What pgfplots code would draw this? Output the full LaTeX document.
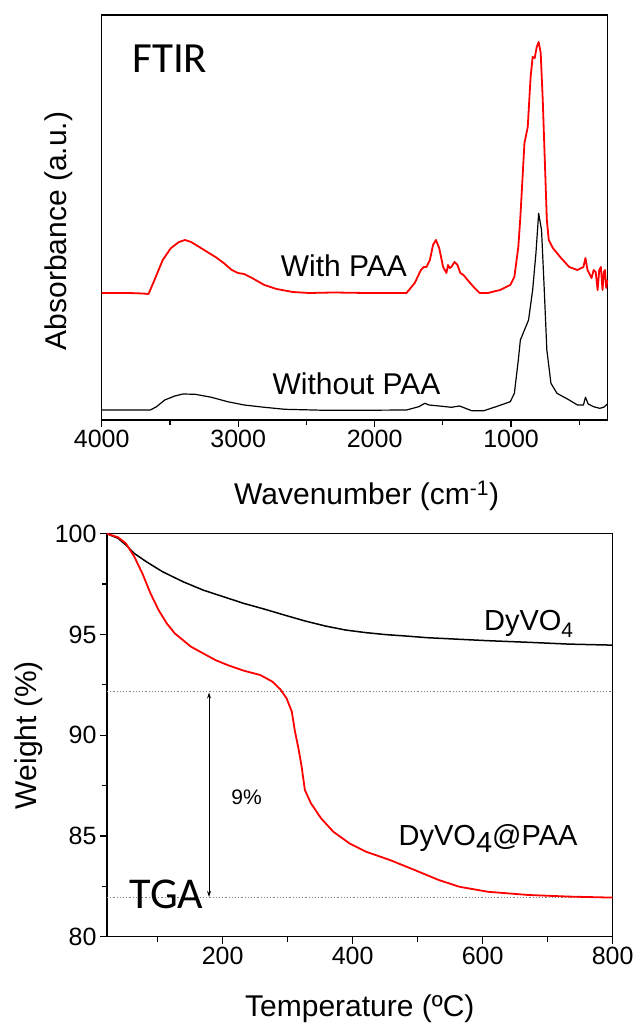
\documentclass[border=0pt]{standalone}
\usepackage{pgfplots}
\pgfplotsset{compat=1.18}
\usepackage{fontspec}
\setmainfont{Liberation Sans}
\newfontfamily\calib{Carlito}
\usetikzlibrary{arrows.meta}

\begin{document}
\begin{tikzpicture}[x=1pt,y=1pt]
\path[use as bounding box] (0,0) rectangle (635,1025);
% ---------------- FTIR ----------------
\begin{axis}[
  at={(101.7pt,605pt)}, anchor=south west,
  scale only axis, width=505.6pt, height=405pt,
  xmin=295, xmax=4000, x dir=reverse,
  ymin=0, ymax=405,
  ytick=\empty,
  xtick={1000,2000,3000,4000}, minor xtick={500,1500,2500,3500},
  xtick pos=left, tick align=outside,
  major tick length=7pt, minor tick length=5pt,
  every tick/.append style={black, line width=1.2pt},
  axis line style={line width=1.5pt},
  ticklabel style={font=\fontsize{25}{25}\selectfont},
  /pgf/number format/assume math mode=true,
  /pgf/number format/1000 sep={},
  xlabel={Wavenumber (cm\textsuperscript{-1})},
  ylabel={Absorbance (a.u.)},
  label style={font=\fontsize{30}{30}\selectfont},
  xlabel style={at={(axis description cs:0.524,-0.188)}, anchor=center},
  ylabel style={at={(axis description cs:-0.0845,0.467)}, anchor=center},
  clip=false
]
\addplot[red, line width=1.8pt, line join=round] coordinates {
(4000,127) (3800,127) (3700,126.5) (3657,126) (3613,140) (3553,160) (3494,171.7) (3434,178) (3389,180)
(3345,178) (3285,173) (3226,168) (3166,163) (3106,157) (3047,150) (3002,147) (2957,146)
(2898,142) (2808,135) (2719,131) (2600,128) (2481,127) (2300,127.5) (2064,127) (1766,127)
(1706,137) (1661,150) (1640,153) (1620,153) (1595,160) (1572,175) (1551,180) (1527,172) (1498,153)
(1474,147) (1462,155) (1450,152) (1438,153) (1414,158) (1393,155) (1372,147) (1349,145) (1319,140)
(1274,133) (1230,127) (1170,127) (1081,130) (1006,135) (976,143) (947,173) (932,203)
(902,277) (878,293) (857,343) (842,363) (827,362) (812,373) (798,378) (783,367) (768,320)
(753,260) (738,200) (724,180) (694,172) (634,162) (574,153) (514,150) (470,153) (455,162) (440,150)
(410,142) (395,150) (380,148) (366,130) (354,150) (342,153) (330,130) (320,148) (312,150) (303,132) (295,140)
};
\addplot[black, line width=1.2pt, line join=round] coordinates {
(4000,10) (3643,10) (3598,13.3) (3538,20) (3464,24) (3404,26) (3315,25.7) (3196,22.7)
(3077,18.3) (2957,15) (2808,12.7) (2659,10.7) (2362,9.7) (2000,9.8) (1766,10) (1676,13.3) (1632,16.7)
(1602,15) (1527,14) (1438,12.7) (1378,14) (1334,11.7) (1289,9.3) (1200,9.3) (1110,13.3)
(1006,18.3) (976,26.7) (947,60) (932,80) (902,90) (872,100) (842,130) (818,166.7) (798,206.7)
(777,190) (759,136.7) (738,70) (708,36.7) (664,26.7) (574,20) (514,15) (470,15) (455,22.7)
(435,16) (396,13.3) (351,11.7) (321,12.7) (295,16)
};
\node[anchor=base west, font=\calib\fontsize{43}{43}\selectfont, inner sep=0pt] at (axis cs:3777,347) {FTIR};
\node[anchor=base west, font=\fontsize{30}{30}\selectfont, inner sep=0pt] at (axis cs:2689,143.3) {With PAA};
\node[anchor=base west, font=\fontsize{30}{30}\selectfont, inner sep=0pt] at (axis cs:2749,25) {Without PAA};
\end{axis}
% ---------------- TGA ----------------
\begin{axis}[
  at={(107pt,88.3pt)}, anchor=south west,
  scale only axis, width=505.6pt, height=403pt,
  xmin=22, xmax=800, ymin=80, ymax=100,
  xtick={200,400,600,800}, minor xtick={100,300,500,700},
  ytick={80,85,90,95,100}, minor ytick={82.5,87.5,92.5,97.5},
  xtick pos=left, ytick pos=left, tick align=outside,
  major tick length=7pt, minor tick length=5pt,
  every tick/.append style={black, line width=1.2pt},
  axis line style={line width=1.5pt},
  ticklabel style={font=\fontsize{25}{25}\selectfont},
  /pgf/number format/assume math mode=true,
  /pgf/number format/1000 sep={},
  xlabel={Temperature (ºC)},
  ylabel={Weight (\%)},
  label style={font=\fontsize{30}{30}\selectfont},
  xlabel style={at={(axis description cs:0.5,-0.178)}, anchor=center},
  ylabel style={at={(axis description cs:-0.155,0.5)}, anchor=center},
  clip=false
]
\addplot[gray, dotted, line width=1.2pt] coordinates {(22,92.15) (800,92.15)};
\addplot[gray, dotted, line width=1.2pt] coordinates {(22,81.94) (800,81.94)};
\addplot[black, line width=1pt, {Stealth[length=6pt,width=4pt]}-{Stealth[length=6pt,width=4pt]}] coordinates {(179,92.12) (179,81.97)};
\addplot[black, line width=1.5pt, line join=round] coordinates {
(22,100) (39,99.77) (51,99.44) (64,99.02) (82.5,98.61) (107.6,98.11) (138.8,97.62) (170,97.2)
(201.3,96.87) (232.6,96.54) (263.9,96.26) (295.2,95.96) (326.5,95.67) (357.7,95.42) (389,95.22)
(420.3,95.09) (451.6,94.99) (482.8,94.92) (514.1,94.84) (545.4,94.79) (608,94.69) (670.5,94.61)
(733.1,94.52) (800,94.47)
};
\addplot[red, line width=1.8pt, line join=round] coordinates {
(22,100) (39,99.82) (51,99.52) (64,98.86) (76.4,98.03) (88.9,97.04) (101.4,96.21) (113.9,95.55)
(126.4,95.05) (138.8,94.72) (151.3,94.39) (170,94.06) (188.8,93.73) (207.6,93.48) (232.6,93.2)
(257.6,92.99) (276.4,92.66) (288.9,92.27) (298.3,91.83) (306.4,91.17) (310.8,90.26) (317.1,89.26)
(321.5,88.44) (323.3,88.02) (326.5,87.28) (335.8,86.62) (351.5,85.87) (370.2,85.21) (395.2,84.63)
(420.3,84.22) (457.8,83.8) (495.3,83.31) (532.8,82.81) (564.1,82.48) (608,82.23) (670.5,82.07)
(733.1,81.99) (800,81.94)
};
\node[anchor=base west, font=\calib\fontsize{44}{44}\selectfont, inner sep=0pt] at (axis cs:57,81.41) {TGA};
\node[anchor=base west, font=\fontsize{21}{21}\selectfont, inner sep=0pt] at (axis cs:213,86.54) {9\%};
\node[anchor=base west, font=\fontsize{29}{29}\selectfont, inner sep=0pt] at (axis cs:602,95.22) {DyVO\raisebox{-7pt}{\fontsize{21}{21}\selectfont 4}};
\node[anchor=base west, font=\fontsize{29}{29}\selectfont, inner sep=0pt] at (axis cs:470.5,84.55) {DyVO\raisebox{-7pt}{4}@PAA};
\end{axis}
\end{tikzpicture}
\end{document}
